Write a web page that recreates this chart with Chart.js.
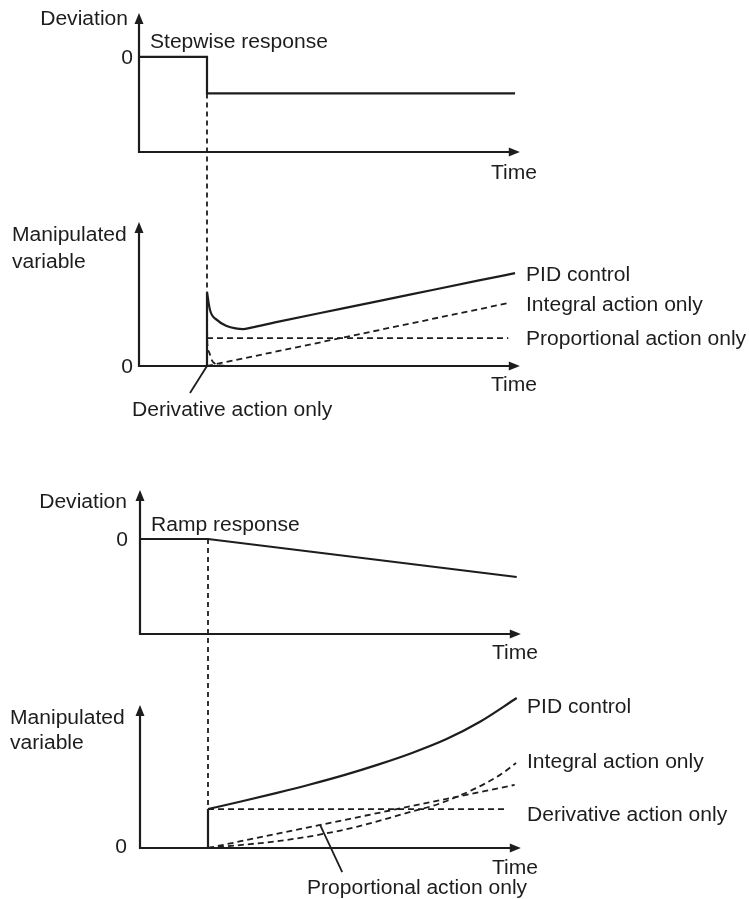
<!DOCTYPE html>
<html>
<head>
<meta charset="utf-8">
<script src="https://cdn.jsdelivr.net/npm/chart.js@4.4.1/dist/chart.umd.min.js"></script>
<style>
  body { margin: 0; background: #fff; }
  #wrap { position: relative; width: 749px; height: 899px; }
  #wrap canvas { position: absolute; left: 0; top: 0; }
</style>
</head>
<body>
<div id="wrap">
  <canvas id="c1" width="749" height="899"></canvas>
  <canvas id="c2" width="749" height="899"></canvas>
  <canvas id="c3" width="749" height="899"></canvas>
  <canvas id="c4" width="749" height="899"></canvas>
</div>
<script>
// time in arbitrary units, the disturbance starts at t = 1

// stepwise response: deviation
var stepDevTime = [0, 1, 1, 5.53];
var stepDev = [0, 0, -1, -1];

// stepwise response: manipulated variable
var stepPidJumpTime = [0, 1, 1];
var stepPidJump = [0, 0, 2.64];
var stepPidTime = [1, 1.044, 1.15, 1.29, 1.42, 1.53, 1.65, 2.0, 3.0, 4.0, 5.0, 5.53];
var stepPid = [2.64, 2.0, 1.64, 1.43, 1.345, 1.32, 1.37, 1.56, 2.06, 2.56, 3.06, 3.32];
var stepITime = [1, 5.43];
var stepI = [0, 2.25];
var stepPTime = [1, 5.43];
var stepP = [1, 1];
var stepDTime = [1, 1.005, 1.03, 1.07, 1.12, 1.2, 1.35];
var stepD = [1.64, 0.8, 0.5, 0.21, 0.08, 0.02, 0];

// ramp response: deviation
var rampDevTime = [0, 1, 5.54];
var rampDev = [0, 0, -1];

// ramp response: manipulated variable
var rampPidJumpTime = [0, 1, 1];
var rampPidJump = [0, 0, 1];
var rampPidTime = [1, 1.5, 2, 2.5, 3, 3.5, 4, 4.5, 5, 5.54];
var rampPid = [1, 1.2, 1.41, 1.63, 1.87, 2.14, 2.44, 2.79, 3.24, 3.85];
var rampITime = [1, 1.5, 2, 2.6, 3.2, 3.82, 4.5, 5.29, 5.53];
var rampI = [0, 0.08, 0.17, 0.33, 0.55, 0.85, 1.2, 1.87, 2.18];
var rampDTime = [1, 5.41];
var rampD = [1, 1];
var rampPTime = [1, 5.51];
var rampP = [0, 1.62];

var INK = '#1f1c1d';
var FONT = '19.5px "Liberation Sans", Arial, sans-serif';
var charts = [];

function pts(xs, ys) {
  return xs.map(function (x, i) { return { x: x, y: ys[i] }; });
}

function line(xs, ys, dashed, smooth) {
  return {
    data: pts(xs, ys),
    showLine: true,
    borderColor: INK,
    borderWidth: dashed ? 1.8 : 2.2,
    borderDash: dashed ? [6, 4] : [],
    pointRadius: 0,
    fill: false,
    tension: 0,
    cubicInterpolationMode: smooth ? 'monotone' : 'default',
    clip: false
  };
}

function text(ctx, s, x, y, align) {
  ctx.save();
  ctx.translate(x, y + 2);
  ctx.scale(1.08, 1);
  ctx.font = FONT;
  ctx.fillStyle = INK;
  ctx.textAlign = align || 'left';
  ctx.textBaseline = 'middle';
  ctx.fillText(s, 0, 0);
  ctx.restore();
}

function makeChart(id, cfg) {
  var deco = {
    id: 'deco',
    afterDatasetsDraw: function (chart) {
      var ctx = chart.ctx, a = chart.chartArea;
      var sx = chart.scales.x, sy = chart.scales.y;
      var xEnd = sx.getPixelForValue(5.6);
      ctx.save();
      ctx.strokeStyle = INK;
      ctx.fillStyle = INK;
      ctx.lineWidth = 2.2;
      ctx.setLineDash([]);
      ctx.beginPath();
      ctx.moveTo(a.left, a.top + 6);
      ctx.lineTo(a.left, a.bottom);
      ctx.lineTo(xEnd - 6, a.bottom);
      ctx.stroke();
      ctx.beginPath();
      ctx.moveTo(a.left, a.top);
      ctx.lineTo(a.left - 4.5, a.top + 11);
      ctx.lineTo(a.left + 4.5, a.top + 11);
      ctx.closePath();
      ctx.fill();
      ctx.beginPath();
      ctx.moveTo(xEnd, a.bottom);
      ctx.lineTo(xEnd - 11, a.bottom - 4.5);
      ctx.lineTo(xEnd - 11, a.bottom + 4.5);
      ctx.closePath();
      ctx.fill();

      // dashed link from the deviation panel above
      if (cfg.link) {
        var up = cfg.link.from;
        var lx = sx.getPixelForValue(cfg.link.t);
        ctx.lineWidth = 1.8;
        ctx.setLineDash([5, 4]);
        ctx.beginPath();
        ctx.moveTo(lx, up.scales.y.getPixelForValue(cfg.link.fromValue));
        ctx.lineTo(lx, sy.getPixelForValue(cfg.link.toValue));
        ctx.stroke();
      }

      // leader lines
      ctx.lineWidth = 1.8;
      ctx.setLineDash([]);
      (cfg.leaders || []).forEach(function (l) {
        var px = sx.getPixelForValue(l.t), py = sy.getPixelForValue(l.v);
        ctx.beginPath();
        ctx.moveTo(px + l.dx, py + l.dy);
        ctx.lineTo(px, py);
        ctx.stroke();
      });
      ctx.restore();

      cfg.texts(chart).forEach(function (t) {
        text(ctx, t[0], t[1], t[2], t[3]);
      });
    }
  };

  var chart = new Chart(document.getElementById(id), {
    type: 'scatter',
    data: { datasets: cfg.datasets },
    options: {
      responsive: false,
      animation: false,
      events: [],
      layout: { padding: cfg.pad },
      plugins: { legend: { display: false }, tooltip: { enabled: false } },
      scales: {
        x: { type: 'linear', display: false, min: 0, max: 6 },
        y: { type: 'linear', display: false, min: cfg.ymin, max: cfg.ymax }
      }
    },
    plugins: [deco]
  });
  charts.push(chart);
  return chart;
}

// ---- stepwise response, deviation
var c1 = makeChart('c1', {
  pad: { left: 139, right: 202, top: 13, bottom: 747 },
  ymin: -2.6, ymax: 1.2,
  datasets: [line(stepDevTime, stepDev, false, false)],
  texts: function (c) {
    var a = c.chartArea, y0 = c.scales.y.getPixelForValue(0);
    return [
      ['Deviation', a.left - 11, a.top + 5, 'right'],
      ['0', a.left - 6, y0, 'right'],
      ['Stepwise response', a.left + 11, y0 - 16, 'left'],
      ['Time', 514, a.bottom + 20, 'center']
    ];
  }
});

// ---- stepwise response, manipulated variable
makeChart('c2', {
  pad: { left: 139, right: 202, top: 222, bottom: 533 },
  ymin: 0, ymax: 5.15,
  link: { from: c1, t: 1, fromValue: stepDev[2], toValue: stepPidJump[2] },
  leaders: [{ t: 1, v: 0, dx: -17, dy: 27 }],
  datasets: [
    line(stepPidJumpTime, stepPidJump, false, false),
    line(stepPidTime, stepPid, false, true),
    line(stepITime, stepI, true, false),
    line(stepPTime, stepP, true, false),
    line(stepDTime, stepD, true, true)
  ],
  texts: function (c) {
    var a = c.chartArea, sy = c.scales.y, lx = 526;
    return [
      ['Manipulated', 12, a.top + 12, 'left'],
      ['variable', 12, a.top + 39, 'left'],
      ['0', a.left - 6, sy.getPixelForValue(0), 'right'],
      ['Time', 514, a.bottom + 18, 'center'],
      ['PID control', lx, sy.getPixelForValue(stepPid[stepPid.length - 1]), 'left'],
      ['Integral action only', lx, sy.getPixelForValue(stepI[1]) + 1, 'left'],
      ['Proportional action only', lx, sy.getPixelForValue(stepP[1]), 'left'],
      ['Derivative action only', 132, a.bottom + 43, 'left']
    ];
  }
});

// ---- ramp response, deviation
var c3 = makeChart('c3', {
  pad: { left: 140, right: 201, top: 490, bottom: 265 },
  ymin: -2.5, ymax: 1.29,
  datasets: [line(rampDevTime, rampDev, false, false)],
  texts: function (c) {
    var a = c.chartArea, y0 = c.scales.y.getPixelForValue(0);
    return [
      ['Deviation', a.left - 13, a.top + 11, 'right'],
      ['0', a.left - 12, y0, 'right'],
      ['Ramp response', a.left + 11, y0 - 15, 'left'],
      ['Time', 515, a.bottom + 18, 'center']
    ];
  }
});

// ---- ramp response, manipulated variable
makeChart('c4', {
  pad: { left: 140, right: 201, top: 705, bottom: 51 },
  ymin: 0, ymax: 3.67,
  link: { from: c3, t: 1, fromValue: rampDev[1], toValue: rampPidJump[2] },
  leaders: [{ t: 2.65, v: 0.59, dx: 22, dy: 47 }],
  datasets: [
    line(rampPidJumpTime, rampPidJump, false, false),
    line(rampPidTime, rampPid, false, true),
    line(rampITime, rampI, true, true),
    line(rampDTime, rampD, true, false),
    line(rampPTime, rampP, true, false)
  ],
  texts: function (c) {
    var a = c.chartArea, sy = c.scales.y, lx = 527;
    return [
      ['Manipulated', 10, a.top + 12, 'left'],
      ['variable', 10, a.top + 37, 'left'],
      ['0', a.left - 13, sy.getPixelForValue(0) - 2, 'right'],
      ['Time', 515, a.bottom + 19, 'center'],
      ['PID control', lx, 706, 'left'],
      ['Integral action only', lx, 761, 'left'],
      ['Derivative action only', lx, 814, 'left'],
      ['Proportional action only', 307, 887, 'left']
    ];
  }
});
</script>
</body>
</html>
